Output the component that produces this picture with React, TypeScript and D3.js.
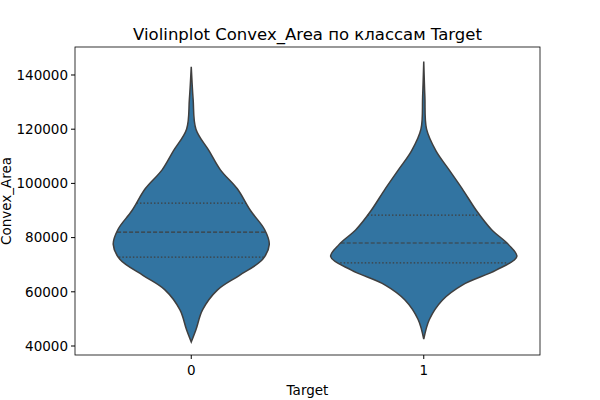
import * as d3 from 'd3';
import React from 'react';

const categories = ['0', '1'];
const yTicks = [40000, 60000, 80000, 100000, 120000, 140000];

// density outline (value, relative width)
const values0 = [41500, 46000, 53300, 60700, 66000, 72000, 77500, 83000, 90000, 98000, 105000, 112000, 120000, 131000, 143000];
const dens0 = [0, 0.05, 0.12, 0.28, 0.51, 0.76, 0.83, 0.78, 0.63, 0.49, 0.31, 0.19, 0.05, 0.02, 0];
const values1 = [42500, 49800, 57000, 62500, 68000, 73000, 77500, 83000, 90000, 98000, 105000, 112000, 120000, 132000, 145000];
const dens1 = [0, 0.06, 0.2, 0.41, 0.77, 0.99, 0.9, 0.72, 0.56, 0.41, 0.27, 0.13, 0.03, 0.012, 0];
const quart0 = [72800, 82000, 92700];
const quart1 = [70700, 78000, 88300];

const series = [
  { values: values0, dens: dens0, quart: quart0 },
  { values: values1, dens: dens1, quart: quart1 },
];

export default function App() {
  const W = 600, H = 400;
  const m = { top: 47, right: 60, bottom: 45, left: 75 };
  const x = d3.scaleBand().domain(categories).range([m.left, W - m.right]);
  const y = d3.scaleLinear().domain([36680, 150330]).range([H - m.bottom, m.top]);
  const w = d3.scaleLinear().domain([0, 1]).range([0, 94]);
  const densAt = (vals: number[], ds: number[], v: number) => {
    const i = d3.bisectLeft(vals, v);
    if (i <= 0) return ds[0];
    if (i >= vals.length) return ds[ds.length - 1];
    const t = (v - vals[i - 1]) / (vals[i] - vals[i - 1]);
    return ds[i - 1] + t * (ds[i] - ds[i - 1]);
  };
  const font = 'DejaVu Sans, sans-serif';
  return (
    <svg width={W} height={H} style={{ position: 'absolute', left: 0, top: 0, fontFamily: font }}>
      <rect width={W} height={H} fill="#fff" />
      {series.map((s, k) => {
        const cx = (x(categories[k]) ?? 0) + x.bandwidth() / 2;
        const pts = s.values.map((v, i) => ({ v, d: s.dens[i] }));
        const area = d3
          .area<{ v: number; d: number }>()
          .y(p => y(p.v))
          .x0(p => cx - w(p.d))
          .x1(p => cx + w(p.d))
          .curve(d3.curveCatmullRom);
        return (
          <g key={k}>
            <path d={area(pts) ?? ''} fill="#3274a1" stroke="#3f3f3f" strokeWidth={1.5} />
            {s.quart.map((q, j) => {
              const hw = w(densAt(s.values, s.dens, q));
              return (
                <line key={j} x1={cx - hw} x2={cx + hw} y1={y(q)} y2={y(q)} stroke="#3f3f3f"
                  strokeWidth={1.2} strokeDasharray={j === 1 ? '4,2' : '1.5,2'} />
              );
            })}
          </g>
        );
      })}
      <rect x={m.left} y={m.top} width={W - m.left - m.right} height={H - m.top - m.bottom}
        fill="none" stroke="#000" strokeWidth={0.8} />
      {yTicks.map(t => (
        <g key={t}>
          <line x1={m.left - 4} x2={m.left} y1={y(t)} y2={y(t)} stroke="#000" />
          <text x={m.left - 7} y={y(t)} dy="0.35em" textAnchor="end" fontSize={13.5}>{t}</text>
        </g>
      ))}
      {categories.map(c => {
        const cx = (x(c) ?? 0) + x.bandwidth() / 2;
        return (
          <g key={c}>
            <line x1={cx} x2={cx} y1={H - m.bottom} y2={H - m.bottom + 4} stroke="#000" />
            <text x={cx} y={H - m.bottom + 20} textAnchor="middle" fontSize={13.5}>{c}</text>
          </g>
        );
      })}
      <text x={(m.left + W - m.right) / 2} y={395} textAnchor="middle" fontSize={13.5}>Target</text>
      <text transform={`translate(11,${(m.top + H - m.bottom) / 2}) rotate(-90)`} textAnchor="middle" fontSize={13.5}>Convex_Area</text>
      <text x={(m.left + W - m.right) / 2} y={40} textAnchor="middle" fontSize={16.5}>Violinplot Convex_Area по классам Target</text>
    </svg>
  );
}
